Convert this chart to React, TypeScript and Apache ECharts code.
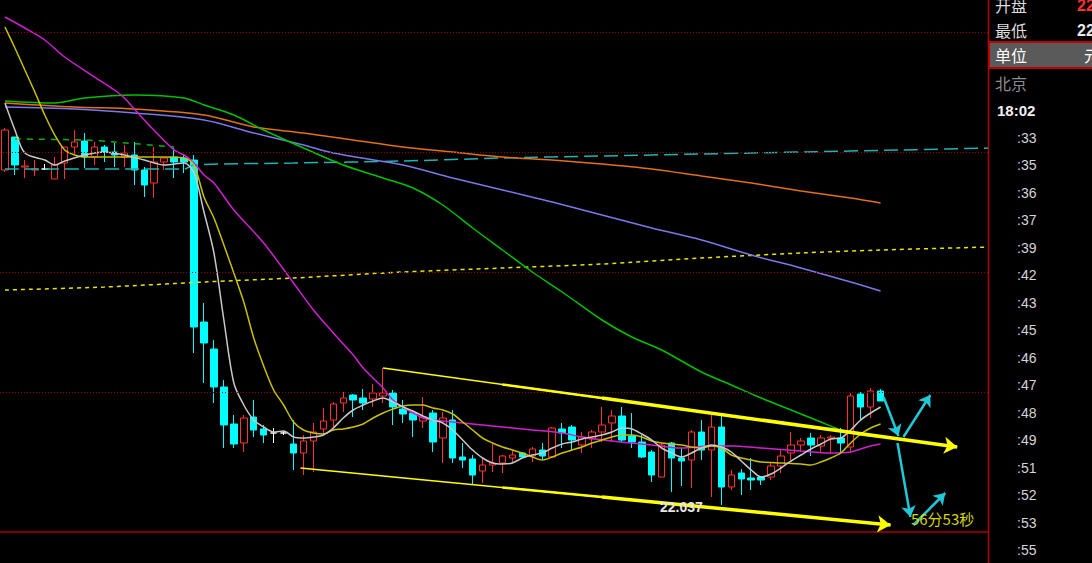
import React, { useEffect, useRef } from "react";
import * as echarts from "echarts";

// Price scale of the main pane
const PRICE_MIN = 21.979;
const PRICE_MAX = 22.542;

// Number of bar slots on the time axis
const SLOT_COUNT = 100;
const categories: string[] = Array.from({ length: SLOT_COUNT }, (_, i) => String(i));

// Candles: [open, close, low, high]
const candles: number[][] = [
  [22.372, 22.412, 22.370, 22.414],
  [22.405, 22.377, 22.367, 22.405],
  [22.375, 22.376, 22.364, 22.382],
  [22.372, 22.373, 22.366, 22.382],
  [22.373, 22.373, 22.372, 22.378],
  [22.363, 22.377, 22.363, 22.385],
  [22.379, 22.395, 22.363, 22.395],
  [22.395, 22.400, 22.387, 22.412],
  [22.401, 22.385, 22.374, 22.409],
  [22.385, 22.395, 22.377, 22.400],
  [22.395, 22.390, 22.380, 22.397],
  [22.390, 22.387, 22.375, 22.399],
  [22.385, 22.389, 22.375, 22.397],
  [22.387, 22.372, 22.357, 22.400],
  [22.372, 22.357, 22.345, 22.375],
  [22.359, 22.380, 22.344, 22.395],
  [22.380, 22.384, 22.372, 22.385],
  [22.385, 22.380, 22.364, 22.394],
  [22.384, 22.380, 22.369, 22.387],
  [22.382, 22.215, 22.189, 22.387],
  [22.220, 22.199, 22.159, 22.239],
  [22.193, 22.155, 22.139, 22.202],
  [22.155, 22.117, 22.094, 22.162],
  [22.118, 22.098, 22.094, 22.127],
  [22.099, 22.124, 22.090, 22.127],
  [22.125, 22.112, 22.105, 22.142],
  [22.113, 22.107, 22.099, 22.117],
  [22.109, 22.109, 22.099, 22.114],
  [22.109, 22.109, 22.107, 22.111],
  [22.098, 22.089, 22.072, 22.122],
  [22.089, 22.101, 22.067, 22.107],
  [22.101, 22.110, 22.070, 22.119],
  [22.113, 22.121, 22.107, 22.134],
  [22.122, 22.138, 22.112, 22.140],
  [22.139, 22.144, 22.130, 22.150],
  [22.147, 22.142, 22.125, 22.148],
  [22.144, 22.139, 22.132, 22.153],
  [22.143, 22.149, 22.135, 22.158],
  [22.146, 22.149, 22.139, 22.174],
  [22.149, 22.135, 22.117, 22.152],
  [22.133, 22.128, 22.119, 22.142],
  [22.129, 22.122, 22.105, 22.132],
  [22.121, 22.125, 22.114, 22.145],
  [22.129, 22.100, 22.090, 22.132],
  [22.104, 22.124, 22.079, 22.130],
  [22.122, 22.084, 22.079, 22.132],
  [22.085, 22.082, 22.074, 22.099],
  [22.083, 22.067, 22.057, 22.087],
  [22.071, 22.077, 22.059, 22.084],
  [22.077, 22.079, 22.070, 22.099],
  [22.079, 22.086, 22.069, 22.087],
  [22.084, 22.087, 22.079, 22.092],
  [22.089, 22.085, 22.084, 22.090],
  [22.086, 22.093, 22.080, 22.095],
  [22.092, 22.086, 22.082, 22.099],
  [22.085, 22.114, 22.084, 22.115],
  [22.113, 22.109, 22.094, 22.119],
  [22.115, 22.102, 22.092, 22.117],
  [22.097, 22.105, 22.089, 22.110],
  [22.103, 22.110, 22.094, 22.112],
  [22.110, 22.117, 22.100, 22.135],
  [22.119, 22.126, 22.100, 22.132],
  [22.126, 22.102, 22.100, 22.135],
  [22.106, 22.100, 22.094, 22.129],
  [22.100, 22.085, 22.084, 22.107],
  [22.090, 22.067, 22.060, 22.092],
  [22.065, 22.097, 22.065, 22.099],
  [22.099, 22.084, 22.050, 22.100],
  [22.084, 22.081, 22.056, 22.094],
  [22.082, 22.110, 22.054, 22.112],
  [22.110, 22.092, 22.082, 22.122],
  [22.092, 22.115, 22.045, 22.127],
  [22.115, 22.055, 22.037, 22.127],
  [22.055, 22.067, 22.052, 22.072],
  [22.069, 22.063, 22.047, 22.073],
  [22.064, 22.062, 22.052, 22.084],
  [22.065, 22.062, 22.057, 22.066],
  [22.065, 22.076, 22.062, 22.079],
  [22.076, 22.086, 22.069, 22.092],
  [22.089, 22.097, 22.082, 22.110],
  [22.097, 22.101, 22.090, 22.104],
  [22.104, 22.097, 22.086, 22.109],
  [22.096, 22.104, 22.090, 22.107],
  [22.104, 22.105, 22.088, 22.107],
  [22.104, 22.099, 22.089, 22.114],
  [22.095, 22.146, 22.089, 22.149],
  [22.148, 22.135, 22.122, 22.150],
  [22.135, 22.151, 22.124, 22.154],
  [22.151, 22.141, 22.141, 22.153],
];

// Bars whose open equals close (drawn white)
const flatBars: number[] = [4, 27, 28];

// Moving averages as [slot, price]
const ma5: number[][] = [
  [0, 22.439], [1, 22.412], [2, 22.389], [4, 22.382], [5, 22.377], [6, 22.381], [8, 22.387],
  [10, 22.390], [12, 22.387], [14, 22.382], [16, 22.377], [18, 22.379], [19, 22.369], [20, 22.330],
  [21, 22.289], [22, 22.222], [23, 22.159], [24, 22.137], [25, 22.122], [26, 22.115], [27, 22.110],
  [28, 22.111], [29, 22.105], [30, 22.104], [31, 22.105], [32, 22.107], [33, 22.114], [34, 22.124],
  [35, 22.132], [36, 22.137], [37, 22.141], [38, 22.144], [39, 22.140], [40, 22.135], [41, 22.131],
  [42, 22.126], [43, 22.122], [44, 22.119], [45, 22.112], [46, 22.102], [47, 22.092], [48, 22.084],
  [49, 22.079], [50, 22.078], [51, 22.079], [52, 22.084], [53, 22.087], [54, 22.089], [55, 22.094],
  [56, 22.098], [57, 22.100], [58, 22.103], [59, 22.105], [60, 22.107], [61, 22.110], [62, 22.114],
  [63, 22.113], [64, 22.108], [65, 22.102], [66, 22.094], [67, 22.089], [68, 22.085], [69, 22.089],
  [70, 22.094], [71, 22.097], [72, 22.095], [73, 22.090], [74, 22.081], [75, 22.072], [76, 22.065],
  [77, 22.068], [78, 22.074], [79, 22.081], [80, 22.087], [81, 22.093], [82, 22.098], [83, 22.103],
  [84, 22.104], [85, 22.112], [86, 22.122], [87, 22.129], [88, 22.135],
];

const ma10: number[][] = [
  [0, 22.515], [1, 22.494], [2, 22.472], [3, 22.450], [4, 22.427], [5, 22.407], [6, 22.392],
  [7, 22.387], [8, 22.385], [10, 22.385], [13, 22.385], [16, 22.385], [18, 22.384], [19, 22.377],
  [20, 22.345], [21, 22.324], [22, 22.297], [23, 22.269], [24, 22.240], [25, 22.204], [26, 22.176],
  [27, 22.152], [28, 22.137], [29, 22.120], [30, 22.112], [31, 22.109], [32, 22.108], [33, 22.112],
  [34, 22.113], [35, 22.115], [36, 22.118], [37, 22.124], [38, 22.129], [39, 22.133], [40, 22.136],
  [41, 22.137], [42, 22.137], [43, 22.134], [44, 22.132], [45, 22.128], [46, 22.120], [47, 22.112],
  [48, 22.104], [49, 22.099], [50, 22.095], [51, 22.092], [52, 22.089], [53, 22.085], [54, 22.082],
  [55, 22.085], [56, 22.089], [57, 22.092], [58, 22.095], [59, 22.099], [60, 22.102], [61, 22.105],
  [62, 22.107], [63, 22.107], [64, 22.105], [65, 22.101], [66, 22.099], [67, 22.098], [68, 22.097],
  [69, 22.095], [70, 22.094], [71, 22.096], [72, 22.094], [73, 22.087], [74, 22.084], [75, 22.082],
  [76, 22.080], [78, 22.079], [80, 22.078], [81, 22.077], [82, 22.080], [83, 22.084], [84, 22.089],
  [85, 22.099], [86, 22.108], [87, 22.114], [88, 22.118],
];

const ma20: number[][] = [
  [0, 22.525], [2, 22.514], [4, 22.502], [6, 22.485], [9, 22.465], [11, 22.452], [12, 22.444],
  [14, 22.422], [17, 22.392], [18, 22.387], [19, 22.379], [20, 22.367], [21, 22.359], [23, 22.332],
  [26, 22.299], [29, 22.259], [31, 22.232], [33, 22.209], [35, 22.187], [36, 22.174], [38, 22.154],
  [39, 22.142], [40, 22.135], [41, 22.129], [42, 22.124], [43, 22.122], [45, 22.120], [48, 22.117],
  [50, 22.115], [53, 22.112], [56, 22.109], [58, 22.105], [61, 22.101], [65, 22.097], [68, 22.094],
  [71, 22.096], [73, 22.096], [76, 22.094], [80, 22.091], [83, 22.089], [85, 22.090], [86, 22.093],
  [87, 22.096], [88, 22.098],
];

const ma60: number[][] = [
  [0, 22.441], [5, 22.439], [8, 22.444], [13, 22.447], [18, 22.444], [20, 22.437], [23, 22.427],
  [26, 22.412], [30, 22.394], [34, 22.377], [38, 22.364], [41, 22.354], [44, 22.337], [47, 22.314],
  [50, 22.292], [53, 22.270], [56, 22.250], [60, 22.222], [63, 22.205], [66, 22.192], [70, 22.170],
  [73, 22.157], [76, 22.144], [79, 22.132], [82, 22.120], [84, 22.112], [86, 22.107], [88, 22.105],
];

const ma120: number[][] = [
  [0, 22.439], [7, 22.435], [13, 22.433], [20, 22.427], [25, 22.415], [30, 22.409], [35, 22.402],
  [40, 22.395], [45, 22.390], [50, 22.385], [55, 22.382], [60, 22.378], [65, 22.373], [70, 22.366],
  [75, 22.359], [80, 22.351], [85, 22.344], [88, 22.339],
];

const ma250: number[][] = [
  [0, 22.435], [7, 22.433], [13, 22.429], [20, 22.422], [25, 22.409], [30, 22.397], [33, 22.389],
  [40, 22.377], [45, 22.364], [50, 22.352], [55, 22.340], [60, 22.327], [65, 22.314], [70, 22.302],
  [75, 22.287], [80, 22.274], [85, 22.260], [88, 22.251],
];

// Longer reference averages (dashed)
const refYellow: number[][] = [
  [0, 22.252], [10, 22.255], [20, 22.260], [29, 22.264], [40, 22.270], [50, 22.274], [60, 22.278],
  [70, 22.284], [80, 22.289], [88, 22.292], [99, 22.295],
];
const refCyan: number[][] = [
  [0, 22.373], [18, 22.373], [19, 22.377], [29, 22.379], [40, 22.381], [50, 22.384], [60, 22.386],
  [70, 22.388], [80, 22.390], [90, 22.392], [99, 22.394],
];
const refGreen: number[][] = [[1, 22.403], [8, 22.402], [11, 22.400], [17, 22.395]];

// Horizontal guide levels
const dottedLevels: number[] = [22.508, 22.3875, 22.267, 22.1465];
const solidLevel = 22.013;

// Price-axis tick labels (right pane)
const tickLabels: string[] = [
  ":33", ":35", ":36", ":37", ":39", ":42", ":43", ":45",
  ":46", ":47", ":48", ":49", ":51", ":52", ":53", ":55",
];

// Hand-drawn channel lines and arrows, [slot, price] pairs
const channelThin: number[][][] = [
  [[38.0, 22.174], [95.7, 22.095]],
  [[29.7, 22.074], [89.0, 22.017]],
];
const channelMid: number[][][] = [
  [[50.0, 22.1576], [60.0, 22.1439]],
  [[50.0, 22.0545], [60.0, 22.0449]],
];
const channelBold: number[][][] = [
  [[60.0, 22.1439], [95.7, 22.095]],
  [[60.0, 22.0449], [89.0, 22.017]],
];
const cyanArrows: number[][][] = [
  [[88.3, 22.145], [89.8, 22.106]],
  [[90.3, 22.105], [93.0, 22.147]],
  [[89.7, 22.099], [91.0, 22.025]],
  [[91.3, 22.017], [94.5, 22.049]],
];
const countdownText = "56分53秒";
const countdownAt: number[] = [91.0, 22.024];

// Quote panel rows
const quoteRows: { label: string; value: string; color: string }[] = [
  { label: "开盘", value: "22.151", color: "#ff3030" },
  { label: "最低", value: "22.037", color: "#e8e8e8" },
];
const unitLabel = "单位";
const unitValue = "元";
const zoneLabel = "北京";
const clockText = "18:02";

const RED = "#ff3030";
const CYAN = "#00ffff";
const CJK = '"Noto Sans CJK SC", sans-serif';

function App() {
  const ref = useRef<HTMLDivElement>(null);

  useEffect(() => {
    if (!ref.current) return;
    const chart = echarts.init(ref.current, null, { renderer: "svg" });

    const lowest = Math.min(...candles.map((c) => c[2]));
    const lowestIdx = candles.findIndex((c) => c[2] === lowest);

    const candleItems = candles.map((c, i) =>
      flatBars.includes(i)
        ? {
            value: c,
            itemStyle: {
              color: "#ffffff",
              color0: "#ffffff",
              borderColor: "#ffffff",
              borderColor0: "#ffffff",
              borderColorDoji: "#ffffff",
            },
          }
        : { value: c }
    );

    const lineSeries = (data: number[][], color: string, type: any = "solid", width = 1.5) => ({
      type: "line",
      xAxisIndex: 0,
      yAxisIndex: 0,
      data,
      symbol: "none",
      showSymbol: false,
      smooth: 0.3,
      connectNulls: true,
      silent: true,
      z: 3,
      lineStyle: { color, width, type },
    });

    const seg = (pts: number[][], color: string, width: number, arrow: boolean, size = 12) => [
      { coord: pts[0], symbol: "none", lineStyle: { color, width, type: "solid" } },
      { coord: pts[1], symbol: arrow ? "arrow" : "none", symbolSize: size },
    ];

    const option: any = {
      backgroundColor: "#000000",
      animation: false,
      grid: [
        { left: -5, right: 1092 - 995, top: 0, bottom: 0 },
        { left: 1010, top: 138, height: 412, width: 60 },
      ],
      xAxis: [
        { type: "category", gridIndex: 0, data: categories, boundaryGap: true, show: false },
        { type: "value", gridIndex: 0, min: -0.5, max: SLOT_COUNT - 0.5, show: false },
        { type: "value", gridIndex: 1, min: 0, max: 1, show: false },
      ],
      yAxis: [
        { type: "value", gridIndex: 0, min: PRICE_MIN, max: PRICE_MAX, show: false },
        {
          type: "value",
          gridIndex: 1,
          min: 0,
          max: tickLabels.length - 1,
          interval: 1,
          inverse: true,
          z: 60,
          axisLine: { show: false },
          axisTick: { show: false },
          splitLine: { show: false },
          axisLabel: {
            inside: true,
            margin: 7,
            color: "#d4d4d4",
            fontSize: 14,
            fontFamily: "Liberation Sans",
            formatter: (v: number) => tickLabels[Math.round(v)] ?? "",
          },
        },
      ],
      series: [
        {
          type: "candlestick",
          xAxisIndex: 0,
          yAxisIndex: 0,
          data: candleItems,
          barWidth: 7,
          silent: true,
          itemStyle: {
            color: "#000000",
            color0: CYAN,
            borderColor: RED,
            borderColor0: CYAN,
            borderWidth: 1,
          },
          markLine: {
            silent: true,
            symbol: ["none", "none"],
            label: { show: false },
            data: [
              ...dottedLevels.map((v) => ({
                yAxis: v,
                lineStyle: { color: "#8a0000", width: 1, type: [1, 2] },
              })),
              { yAxis: solidLevel, lineStyle: { color: "#a80000", width: 1.5, type: "solid" } },
            ],
          },
          markPoint: {
            silent: true,
            data: [
              {
                coord: [lowestIdx, lowest],
                symbol: "circle",
                symbolSize: 1,
                itemStyle: { color: "rgba(0,0,0,0)" },
                label: {
                  show: true,
                  position: "left",
                  distance: 18,
                  formatter: lowest.toFixed(3),
                  color: "#e6e6e6",
                  fontSize: 14,
                  fontWeight: "bold",
                  fontFamily: "Liberation Sans",
                  offset: [0, 2],
                },
              },
            ],
          },
        },
        lineSeries(refYellow, "#e6e600", [4, 4]),
        lineSeries(refCyan, "#1fb4b4", [14, 6]),
        lineSeries(refGreen, "#00b400", [6, 6]),
        lineSeries(ma250, "#7c78e8"),
        lineSeries(ma120, "#e0701a"),
        lineSeries(ma60, "#00c000"),
        lineSeries(ma20, "#d020d0"),
        lineSeries(ma10, "#c8c000"),
        lineSeries(ma5, "#c8c8c8"),
        {
          type: "line",
          xAxisIndex: 1,
          yAxisIndex: 0,
          data: [],
          silent: true,
          z: 5,
          markLine: {
            silent: true,
            symbol: ["none", "none"],
            label: { show: false },
            data: [
              ...channelThin.map((p) => seg(p, "#ffff00", 1.5, false)),
              ...channelMid.map((p) => seg(p, "#ffff00", 2.5, false)),
              ...channelBold.map((p) => seg(p, "#ffff00", 3.5, true, 13)),
              ...cyanArrows.map((p) => seg(p, "#22c8d6", 2.5, true, 11)),
            ],
          },
          markPoint: {
            silent: true,
            data: [
              {
                coord: countdownAt,
                symbol: "circle",
                symbolSize: 1,
                itemStyle: { color: "rgba(0,0,0,0)" },
                label: {
                  show: true,
                  position: "right",
                  distance: 0,
                  formatter: countdownText,
                  color: "#d6d600",
                  fontSize: 15,
                  fontFamily: CJK,
                },
              },
            ],
          },
        },
      ],
      graphic: [
        { type: "rect", z: 50, shape: { x: 989, y: 0, width: 110, height: 563 }, style: { fill: "#000000" } },
        {
          type: "line",
          z: 51,
          shape: { x1: 988.5, y1: 0, x2: 988.5, y2: 563 },
          style: { stroke: "#b40000", lineWidth: 1.5 },
        },
        ...quoteRows.flatMap((r, i) => [
          {
            type: "text",
            z: 55,
            x: 995,
            y: 5 + i * 25,
            style: { text: r.label, fill: "#dcdcdc", fontSize: 16, fontFamily: CJK, verticalAlign: "middle" },
          },
          {
            type: "text",
            z: 55,
            x: 1077,
            y: 5 + i * 25,
            style: {
              text: r.value,
              fill: r.color,
              fontSize: 16,
              fontFamily: "Liberation Sans",
              fontWeight: "bold",
              verticalAlign: "middle",
            },
          },
        ]),
        {
          type: "rect",
          z: 52,
          shape: { x: 989, y: 42, width: 110, height: 26 },
          style: { fill: "#5a5a5a", stroke: "#c00000", lineWidth: 2 },
        },
        {
          type: "text",
          z: 55,
          x: 995,
          y: 55,
          style: { text: unitLabel, fill: "#ffffff", fontSize: 16, fontFamily: CJK, verticalAlign: "middle" },
        },
        {
          type: "text",
          z: 55,
          x: 1084,
          y: 55,
          style: { text: unitValue, fill: "#ffffff", fontSize: 16, fontFamily: CJK, verticalAlign: "middle" },
        },
        {
          type: "text",
          z: 55,
          x: 995,
          y: 83,
          style: { text: zoneLabel, fill: "#8c8c8c", fontSize: 16, fontFamily: CJK, verticalAlign: "middle" },
        },
        {
          type: "text",
          z: 55,
          x: 997,
          y: 110,
          style: {
            text: clockText,
            fill: "#f0f0f0",
            fontSize: 15,
            fontWeight: "bold",
            fontFamily: "Liberation Sans",
            verticalAlign: "middle",
          },
        },
      ],
    };

    chart.setOption(option);
    return () => chart.dispose();
  }, []);

  return (
    <div
      ref={ref}
      style={{ position: "fixed", left: 0, top: 0, width: 1092, height: 563, background: "#000" }}
    />
  );
}

export default App;
